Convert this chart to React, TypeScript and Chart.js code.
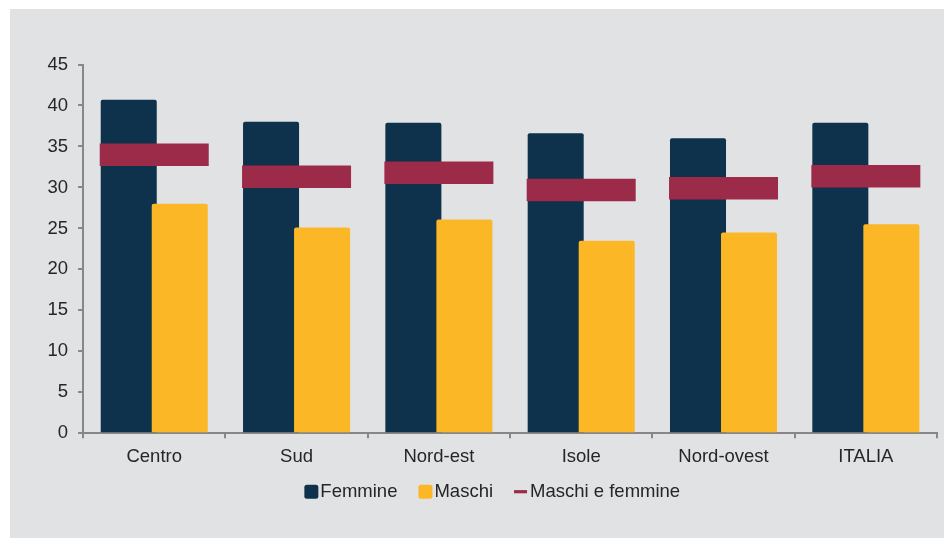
import React, { useEffect, useRef } from "react";
import { Chart, registerables } from "chart.js";

Chart.register(...registerables);

const categories = ["Centro", "Sud", "Nord-est", "Isole", "Nord-ovest", "ITALIA"];
const femmine = [40.7, 38.0, 37.9, 36.6, 36.0, 37.9];
const maschi = [28.0, 25.1, 26.1, 23.5, 24.5, 25.5];
const totale = [34.0, 31.3, 31.8, 29.7, 29.9, 31.35];
const seriesLabels = ["Femmine", "Maschi", "Maschi e femmine"];

const NAVY = "#0e314c";
const YELLOW = "#fbb726";
const MAROON = "#9c2b4a";
const BG = "#e1e2e4";
const AXIS = "#878787";
const TEXT = "#262626";
const FONT_FAMILY = '"Liberation Sans", Arial, sans-serif';
const FONT_SIZE = 18.5;

const PAD = { top: 55.5, left: 27.5, right: 7, bottom: 61.5 };
const LEGEND_CENTER = 482.25;
const LEGEND_FROM_BOTTOM = 46.3;

// Draw Maschi bars above Femmine bars (while Femmine stays on the left of the group)
const orderPlugin = {
  id: "barOrder",
  beforeDatasetDraw(chart: any, args: any) {
    if (args.index === 1) return false;
    return true;
  },
  afterDatasetDraw(chart: any, args: any) {
    if (args.index === 0) {
      const meta = chart.getDatasetMeta(1);
      if (meta && meta.visible) meta.controller.draw();
    }
  },
};

const legendPlugin = {
  id: "customLegend",
  afterDraw(chart: any) {
    const ctx = chart.ctx;
    ctx.save();
    ctx.font = `${FONT_SIZE}px ${FONT_FAMILY}`;
    ctx.textBaseline = "middle";
    const box = 14;
    const gap = 2;
    const spacing = 21;
    const ds = chart.data.datasets;
    const widths = ds.map((d: any) => box + gap + ctx.measureText(d.label).width);
    const total = widths.reduce((a: number, b: number) => a + b, 0) + spacing * (ds.length - 1);
    let x = LEGEND_CENTER - total / 2;
    const y = chart.height - LEGEND_FROM_BOTTOM;
    ds.forEach((d: any, i: number) => {
      if (d.type === "line") {
        ctx.strokeStyle = d.pointBorderColor;
        ctx.lineWidth = 3.2;
        ctx.beginPath();
        ctx.moveTo(x, y);
        ctx.lineTo(x + 13, y);
        ctx.stroke();
      } else {
        ctx.fillStyle = d.backgroundColor;
        ctx.beginPath();
        (ctx as any).roundRect(x, y - box / 2, box, box, 2.5);
        ctx.fill();
      }
      ctx.fillStyle = TEXT;
      ctx.fillText(d.label, x + box + gap, y + 0.5);
      x += widths[i] + spacing;
    });
    ctx.restore();
  },
};

export default function App() {
  const canvasRef = useRef<HTMLCanvasElement | null>(null);

  useEffect(() => {
    if (!canvasRef.current) return;
    const chart = new Chart(canvasRef.current, {
      type: "bar",
      data: {
        labels: categories,
        datasets: [
          {
            type: "bar",
            label: seriesLabels[0],
            data: femmine,
            backgroundColor: NAVY,
            borderRadius: 2,
            order: 1,
            categoryPercentage: 0.717,
            barPercentage: 1.098,
          } as any,
          {
            type: "bar",
            label: seriesLabels[1],
            data: maschi,
            backgroundColor: YELLOW,
            borderRadius: 2,
            order: 2,
            categoryPercentage: 0.717,
            barPercentage: 1.098,
          } as any,
          {
            type: "line",
            label: seriesLabels[2],
            data: totale,
            showLine: false,
            pointStyle: "line",
            pointRadius: 54.5,
            pointHoverRadius: 54.5,
            pointBorderWidth: 22.5,
            pointHoverBorderWidth: 22.5,
            pointBorderColor: MAROON,
            pointBackgroundColor: MAROON,
            borderColor: MAROON,
            order: 0,
            clip: false,
          } as any,
        ],
      },
      options: {
        responsive: false,
        animation: false,
        layout: { padding: PAD, autoPadding: false },
        plugins: {
          legend: { display: false },
          tooltip: { enabled: false },
          title: { display: false },
        },
        scales: {
          x: {
            grid: {
              display: true,
              drawOnChartArea: false,
              drawTicks: true,
              tickLength: 5,
              color: AXIS,
              lineWidth: 2,
              offset: true,
            },
            border: { display: true, color: AXIS, width: 2 },
            ticks: {
              color: TEXT,
              font: { family: FONT_FAMILY, size: FONT_SIZE },
              padding: 8,
              maxRotation: 0,
              autoSkip: false,
            },
          },
          y: {
            min: 0,
            max: 45,
            grid: {
              display: true,
              drawOnChartArea: false,
              drawTicks: true,
              tickLength: 5,
              color: AXIS,
              lineWidth: 2,
            },
            border: { display: true, color: AXIS, width: 2 },
            ticks: {
              stepSize: 5,
              color: TEXT,
              font: { family: FONT_FAMILY, size: FONT_SIZE },
              padding: 10,
            },
          },
        },
      },
      plugins: [orderPlugin, legendPlugin],
    });
    return () => chart.destroy();
  }, []);

  return (
    <div
      style={{
        position: "fixed",
        left: 10,
        top: 9,
        width: 934,
        height: 529,
        background: BG,
      }}
    >
      <canvas ref={canvasRef} width={934} height={529} style={{ display: "block" }} />
    </div>
  );
}
